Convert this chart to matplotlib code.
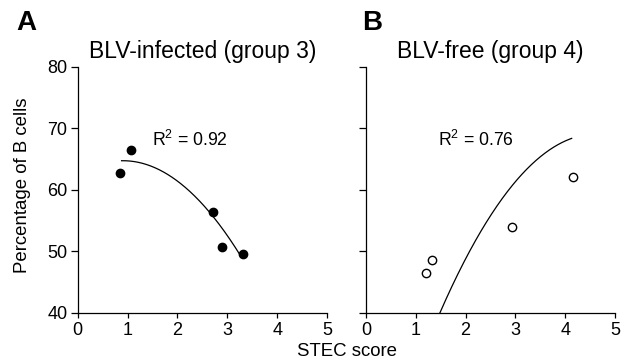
import numpy as np
import matplotlib
matplotlib.use("Agg")
import matplotlib.pyplot as plt

plt.rcParams['font.family'] = ['Liberation Sans', 'DejaVu Sans']
plt.rcParams['mathtext.default'] = 'regular'

# Panel A: BLV-infected (group 3)
a_x = [0.85, 1.06, 2.71, 2.89, 3.31]
a_y = [62.7, 66.4, 56.3, 50.7, 49.6]
a_fit = [-2.78, 5.05, 62.42]      # quadratic coefficients
a_fit_range = [0.88, 3.28]
a_r2 = "0.92"

# Panel B: BLV-free (group 4)
b_x = [1.21, 1.33, 2.93, 4.15]
b_y = [46.4, 48.6, 53.9, 62.1]
b_fit = [-2.965, 27.37, 5.88]
b_fit_range = [1.486, 4.13]
b_r2 = "0.76"

xticks = [0, 1, 2, 3, 4, 5]
yticks = [40, 50, 60, 70, 80]

W, H = 633, 364
fig = plt.figure(figsize=(6.33, 3.64), dpi=100)
axA = fig.add_axes([77.7 / W, 1 - 312.7 / H, 249.3 / W, 246 / H])
axB = fig.add_axes([366 / W, 1 - 312.7 / H, 249 / W, 246 / H])

def style(ax, show_ylabels):
    ax.set_xlim(0, 5)
    ax.set_ylim(40, 80)
    ax.set_xticks(xticks)
    ax.set_yticks(yticks)
    for s in ['top', 'right']:
        ax.spines[s].set_visible(False)
    for s in ['left', 'bottom']:
        ax.spines[s].set_linewidth(0.9)
    ax.tick_params(axis='x', direction='out', length=3.8, width=0.9, labelsize=13, pad=3)
    ax.tick_params(axis='y', direction='out', length=5, width=0.9, labelsize=13, pad=2.5)
    if not show_ylabels:
        ax.set_yticklabels([])

style(axA, True)
style(axB, False)

def title_at(ax, s, ybase_px):
    bb = ax.get_position()
    y = (H - ybase_px) / H
    fig.text(bb.x0 + bb.width / 2, y, s, fontsize=16.5, ha='center', va='baseline')

axA.plot(a_x, a_y, 'o', color='black', markersize=6, clip_on=False)
xa = np.linspace(*a_fit_range, 200)
axA.plot(xa, np.polyval(a_fit, xa), color='black', lw=0.9)
axA.text(1.49, 67.1, 'R$^2$ = ' + a_r2, fontsize=12.7, ha='left', va='baseline')
title_at(axA, 'BLV-infected (group 3)', 58.3)

axB.plot(b_x, b_y, 'o', markerfacecolor='white', markeredgecolor='black',
         markersize=6, markeredgewidth=1.0, clip_on=False)
xb = np.linspace(*b_fit_range, 200)
axB.plot(xb, np.polyval(b_fit, xb), color='black', lw=0.9)
axB.text(1.45, 67.1, 'R$^2$ = ' + b_r2, fontsize=12.7, ha='left', va='baseline')
title_at(axB, 'BLV-free (group 4)', 58.3)

fig.text(23 / W, 1 - 185 / H, 'Percentage of B cells', fontsize=13.4,
         rotation=90, ha='center', va='center')
fig.text(347 / W, 1 - 352 / H, 'STEC score', fontsize=13.4, ha='center', va='center')

fig.text(16 / W, 1 - 10 / H, 'A', fontsize=20, fontweight='bold', ha='left', va='top')
fig.text(362 / W, 1 - 10 / H, 'B', fontsize=20, fontweight='bold', ha='left', va='top')

fig.savefig('out.png', dpi=100)
